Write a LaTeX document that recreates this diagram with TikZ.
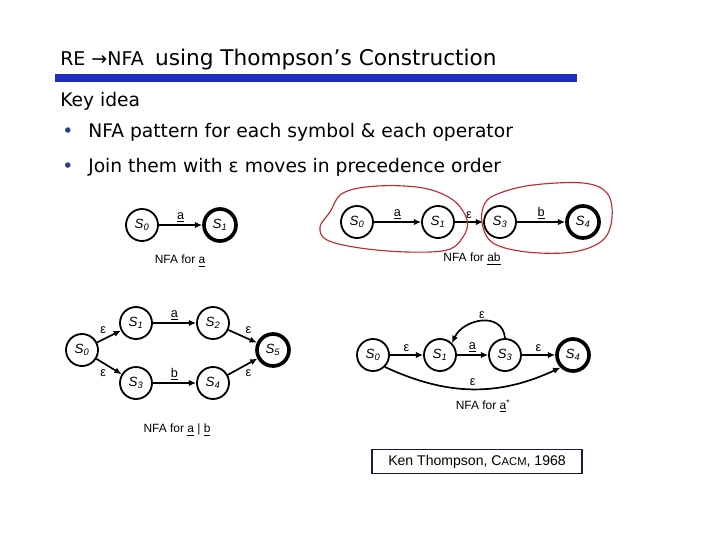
\documentclass[tikz,border=0pt]{standalone}
\usepackage{fontspec}
\setmainfont{DejaVu Sans}
\newfontfamily\diagfont{Liberation Sans}
\usetikzlibrary{arrows.meta, positioning, calc}
\definecolor{mbar}{HTML}{1F2DBE}
\definecolor{mred}{HTML}{C0282D}
\definecolor{mnavy}{HTML}{1A1A4A}
\definecolor{mdot}{HTML}{2A3A8A}
\tikzset{
  st/.style={draw, circle, line width=1.3pt, minimum size=0.8cm, inner sep=0pt,
             font=\diagfont\fontsize{9.5}{10}\selectfont},
  acc/.style={st, line width=2.6pt},
  tr/.style={-{Latex[length=1.8mm,width=1.6mm]}, line width=1.2pt},
  lbl/.style={font=\diagfont\fontsize{9}{10}\selectfont, inner sep=1.5pt},
  captext/.style={font=\diagfont\fontsize{8.5}{10}\selectfont},
  redloop/.style={draw=mred, line width=0.8pt},
}
\newcommand{\sn}[1]{\textit{S}\textsubscript{\textit{#1}}}

\begin{document}
\begin{tikzpicture}[x=0.025cm, y=-0.025cm,
   txt/.style={anchor=base west, inner sep=0pt, font=\fontsize{13.3}{16}\selectfont}]
  \useasboundingbox (0,0) rectangle (720,540);
  % title and bar
  \node[anchor=base west, inner sep=0pt] (title) at (60,65)
    {{\fontsize{13.5}{15}\selectfont RE →NFA}\hspace{8pt}{\fontsize{15.4}{18}\selectfont using Thompson’s Construction}};
  \fill[mbar] (55,74) rectangle (577,82);
  \node[txt] (key) at (60,106) {Key idea};
  \node[txt, text=mdot] (dot1) at (62,137) {•};
  \node[txt] (pt1) at (88,137) {NFA pattern for each symbol \& each operator};
  \node[txt, text=mdot] (dot2) at (62,172) {•};
  \node[txt] (pt2) at (88,172) {Join them with ε moves in precedence order};

  % NFA for a
  \node[st] (a0) at (142,225) {\sn{0}};
  \node[acc] (a1) at (220,225) {\sn{1}};
  \draw[tr] (a0) -- node[lbl, above] {\underline{a}} (a1);
  \node[captext] (acap) at (180,261) {NFA for \underline{a}};

  % NFA for ab
  \node[st] (b0) at (357,222) {\sn{0}};
  \node[st] (b1) at (438,222) {\sn{1}};
  \node[st] (b3) at (500,222) {\sn{3}};
  \node[acc] (b4) at (583,222) {\sn{4}};
  \draw[tr] (b0) -- node[lbl, above] {\underline{a}} (b1);
  \draw[tr] (b1) -- node[lbl, above] {ε} (b3);
  \draw[tr] (b3) -- node[lbl, above] {\underline{b}} (b4);
  \node[captext] (bcap) at (472,259) {NFA for \underline{ab}};
  \draw[redloop] plot[smooth cycle, tension=0.6] coordinates {(330,212) (343,193) (377,186)
    (423,188) (453,200) (467,220) (463,237) (447,250) (407,252) (360,248) (327,240) (320,227)};
  \draw[redloop] plot[smooth cycle, tension=0.6] coordinates {(500,193) (533,185) (583,183)
    (607,193) (612,217) (603,240) (573,252) (527,252) (493,243) (482,223) (485,203)};

  % NFA for a | b
  \node[st] (c0) at (82,350) {\sn{0}};
  \node[st] (c1) at (136,323) {\sn{1}};
  \node[st] (c2) at (213,323) {\sn{2}};
  \node[st] (c3) at (136,383) {\sn{3}};
  \node[st] (c4) at (213,383) {\sn{4}};
  \node[acc] (c5) at (273,350) {\sn{5}};
  \draw[tr] (c0) -- node[lbl, above left] {ε} (c1);
  \draw[tr] (c0) -- node[lbl, below left] {ε} (c3);
  \draw[tr] (c1) -- node[lbl, above] {\underline{a}} (c2);
  \draw[tr] (c3) -- node[lbl, above] {\underline{b}} (c4);
  \draw[tr] (c2) -- node[lbl, above right] {ε} (c5);
  \draw[tr] (c4) -- node[lbl, below right] {ε} (c5);
  \node[captext] (ccap) at (177,430) {NFA for \underline{a} | \underline{b}};

  % NFA for a*
  \node[st] (d0) at (373,355) {\sn{0}};
  \node[st] (d1) at (440,355) {\sn{1}};
  \node[st] (d3) at (505,355) {\sn{3}};
  \node[acc] (d4) at (573,355) {\sn{4}};
  \draw[tr] (d0) -- node[lbl, above] {ε} (d1);
  \draw[tr] (d1) -- node[lbl, above] {\underline{a}} (d3);
  \draw[tr] (d3) -- node[lbl, above] {ε} (d4);
  \draw[tr] (d3.north) to[out=95, in=65, looseness=1.3] node[lbl, above] {ε} (d1.north east);
  \draw[tr] (d0.south east) to[out=-25, in=-155] node[lbl, above, pos=0.5] {ε} (d4.south west);
  \node[captext] (dcap) at (483,406) {NFA for \underline{a}\textsuperscript{*}};

  % citation
  \node[draw=mnavy, line width=0.8pt, minimum width=5.25cm, minimum height=0.58cm,
        font=\diagfont\fontsize{10}{12}\selectfont] (cite) at (477,461.5)
    {Ken Thompson, C{\fontsize{8}{9}\selectfont ACM}, 1968};
\end{tikzpicture}
\end{document}
